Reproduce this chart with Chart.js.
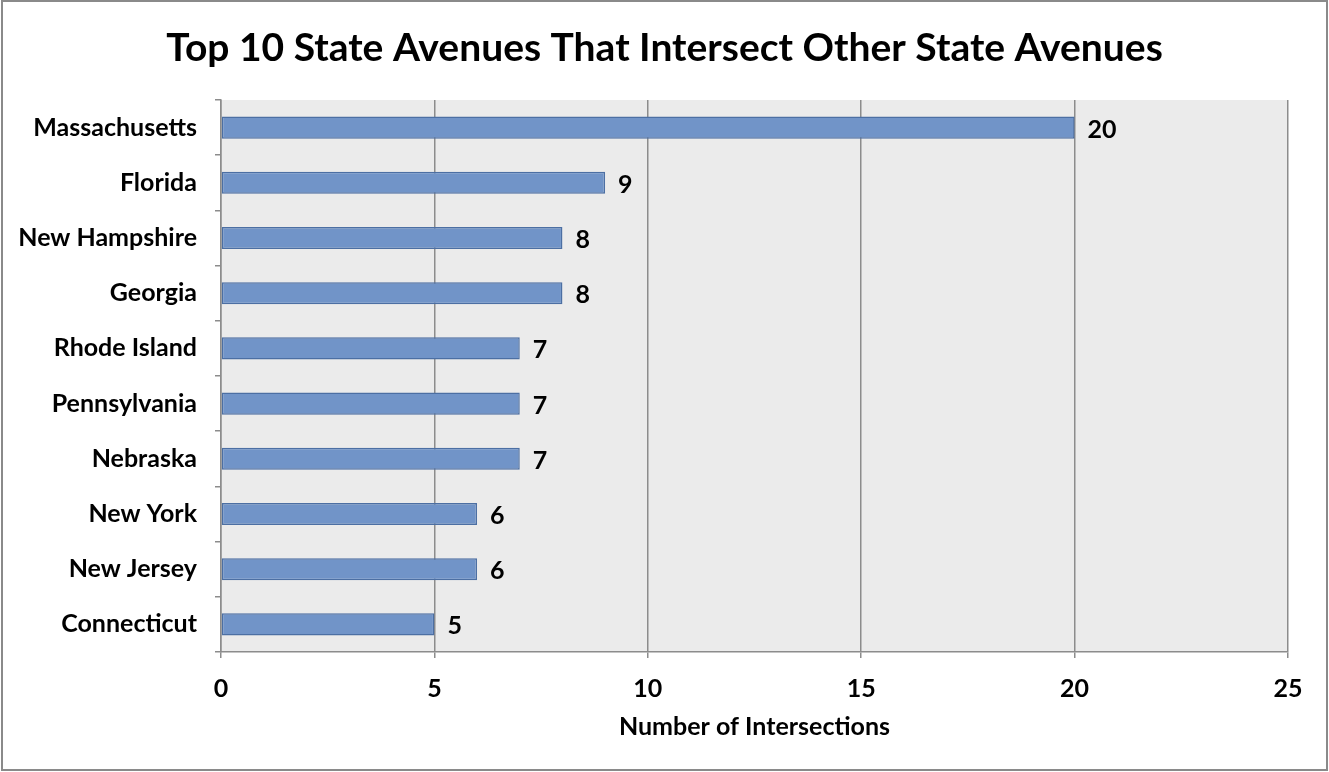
<!DOCTYPE html>
<html>
<head>
<meta charset="utf-8">
<script src="https://cdn.jsdelivr.net/npm/chart.js@4"></script>
<style>
  html, body { margin: 0; padding: 0; background: #fff; }
  #wrap { width: 1329px; height: 772px; }
</style>
</head>
<body>
<div id="wrap"><canvas id="myChart" width="1329" height="772"></canvas></div>
<script>
// chart data
const states = ['Massachusetts', 'Florida', 'New Hampshire', 'Georgia', 'Rhode Island',
  'Pennsylvania', 'Nebraska', 'New York', 'New Jersey', 'Connecticut']
const intersections = [20, 9, 8, 8, 7, 7, 7, 6, 6, 5]
const xTicks = [0, 5, 10, 15, 20, 25]
const chartTitle = 'Top 10 State Avenues That Intersect Other State Avenues'

const FONT = 'Lato, "Open Sans", sans-serif'

// gray plot background, title centred on the page, frame round the picture
const backgroundPlugin = {
    id: 'plotBackground',
    beforeDraw: (chart) => {
        const {ctx, chartArea: {top, bottom, left, right}} = chart
        ctx.save()
        ctx.fillStyle = '#ebebeb'
        ctx.fillRect(left, top, right - left, bottom - top)
        ctx.restore()
    },
    afterDraw: (chart) => {
        const ctx = chart.ctx
        ctx.save()
        ctx.fillStyle = '#000'
        ctx.font = 'bold 39px ' + FONT
        ctx.textAlign = 'center'
        ctx.textBaseline = 'middle'
        ctx.fillText(chartTitle, chart.width / 2, 48)
        ctx.strokeStyle = '#8a8a8a'
        ctx.lineWidth = 2
        ctx.strokeRect(2, 1, chart.width - 4, chart.height - 3)
        ctx.restore()
    }
}

// value labels to the right of each bar
const valueLabels = {
    id: 'valueLabels',
    afterDatasetsDraw: (chart) => {
        const ctx = chart.ctx
        const meta = chart.getDatasetMeta(0)
        ctx.save()
        ctx.fillStyle = '#000'
        ctx.font = 'bold 25px ' + FONT
        ctx.textAlign = 'left'
        ctx.textBaseline = 'middle'
        meta.data.forEach((bar, i) => {
            ctx.fillText(String(intersections[i]), bar.x + 13, bar.y + 2)
        })
        ctx.restore()
    }
}

const ctx = document.getElementById('myChart').getContext('2d')
const myChart = new Chart(ctx, {
    type: 'bar',
    data: {
        labels: states,
        datasets: [{
            label: 'Number of Intersections',
            data: intersections,
            backgroundColor: '#7194c8',
            borderColor: '#4c6fa3',
            borderWidth: 1.5,
            borderSkipped: false,
            categoryPercentage: 1,
            barPercentage: 0.4
        }]
    },
    options: {
        indexAxis: 'y',
        responsive: false,
        animation: false,
        layout: {padding: {left: 0, right: 41, top: 100, bottom: 0}},
        scales: {
            x: {
                min: 0,
                max: 25,
                afterBuildTicks: (scale) => { scale.ticks = xTicks.map(v => ({value: v})) },
                afterFit: (scale) => { scale.height = 120 },
                grid: {color: '#8c8c8c', lineWidth: 1.5, tickLength: 6, drawTicks: true},
                border: {color: '#8c8c8c', width: 1.5},
                ticks: {color: '#000', padding: 16, font: {family: FONT, size: 25, weight: 'bold'}},
                title: {
                    display: true,
                    text: 'Number of Intersections',
                    color: '#000',
                    padding: {top: 0, bottom: 30},
                    font: {family: FONT, size: 25, weight: 'bold'}
                }
            },
            y: {
                afterFit: (scale) => { scale.width = 221 },
                grid: {drawOnChartArea: false, color: '#8c8c8c', lineWidth: 1.5, tickLength: 6},
                border: {color: '#8c8c8c', width: 1.5},
                ticks: {color: '#000', padding: 18, font: {family: FONT, size: 25, weight: 'bold'}}
            }
        },
        plugins: {
            legend: {display: false},
            tooltip: {enabled: false},
            title: {display: false}
        }
    },
    plugins: [backgroundPlugin, valueLabels]
})
</script>
</body>
</html>
